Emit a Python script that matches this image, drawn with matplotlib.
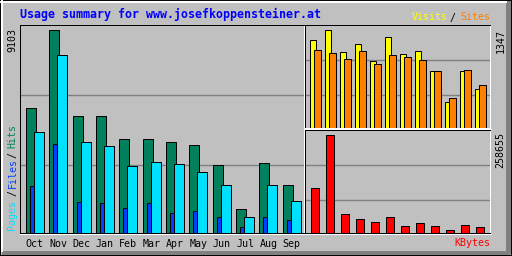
import matplotlib
matplotlib.use("Agg")
import matplotlib.pyplot as plt
from matplotlib.patches import Rectangle
from matplotlib.lines import Line2D
import numpy as np

W, H = 512, 256

# Data
months = ["Oct", "Nov", "Dec", "Jan", "Feb", "Mar", "Apr", "May", "Jun", "Jul", "Aug", "Sep"]
hits = [5596, 9103, 5254, 5254, 4225, 4225, 4090, 3956, 3061, 1092, 3151, 2166]
pages = [4538, 7984, 4090, 3911, 3016, 3195, 3106, 2748, 2166, 734, 2166, 1450]
files = [2121, 4001, 1405, 1360, 1137, 1360, 913, 1002, 734, 286, 734, 600]
visits = [1210, 1347, 1045, 1155, 921, 1251, 1017, 1058, 783, 357, 783, 536]
sites = [1072, 1031, 948, 1058, 880, 1003, 976, 935, 783, 412, 797, 591]
kbytes = [118771, 258655, 50148, 36951, 29033, 42230, 18476, 26394, 18476, 7918, 21115, 15836]

BG = "#c0c0c0"
GRID = "#808080"
C_HITS = "#00805c"
C_FILES = "#0040ff"
C_PAGES = "#00e0ff"
C_VISITS = "#ffff00"
C_SITES = "#ff8000"
C_KB = "#ff0000"
MONO = "DejaVu Sans Mono"
LW = 0.72

fig = plt.figure(figsize=(W / 100, H / 100), dpi=100, facecolor=BG)


def fx(x):
    return x / W


def fy(y):
    return 1 - y / H


def box(x0, y0, x1, y1):
    return [fx(x0), fy(y1), (x1 - x0) / W, (y1 - y0) / H]


# outer 3D frame
fig.add_artist(Rectangle((0, 0), 1, 1, transform=fig.transFigure, fill=False,
                         edgecolor="black", lw=1.4))
fig.add_artist(Rectangle((fx(506), fy(254)), 5 / W, (254 - 1) / H, transform=fig.transFigure,
                         facecolor=GRID, edgecolor="none"))
fig.add_artist(Rectangle((fx(2), fy(255)), (510 - 2) / W, 4 / H, transform=fig.transFigure,
                         facecolor=GRID, edgecolor="none"))
fig.add_artist(Line2D([fx(1), fx(506)], [fy(1.5), fy(1.5)], color="white", lw=1.4))
fig.add_artist(Line2D([fx(1.5), fx(1.5)], [fy(1), fy(251)], color="white", lw=1.4))


def panel(x0, y0, x1, y1, xlim, ymax, grid_fracs, bottom_black=True):
    ax = fig.add_axes(box(x0, y0, x1, y1))
    ax.set_facecolor(BG)
    ax.set_xlim(*xlim)
    ax.set_ylim(0, ymax)
    for f in grid_fracs:
        ax.axhline(ymax * f, color=GRID, lw=1.0, zorder=0)
    ax.set_yticks([])
    ax.set_xticks([])
    for s in ("left", "top", "bottom"):
        ax.spines[s].set_color("black")
    ax.spines["right"].set_color("white")
    if not bottom_black:
        ax.spines["bottom"].set_color("white")
    for s in ax.spines.values():
        s.set_linewidth(LW)
    if bottom_black:
        fig.add_artist(Line2D([fx(x0), fx(x1 + 1)], [fy(y1 + 1), fy(y1 + 1)],
                              color="white", lw=LW))
    return ax


x = np.arange(len(months))

# main panel: hits / files / pages
u = 23.36  # px per month
ax = panel(20, 25, 304, 233, (-5.8 / u, -5.8 / u + 284 / u), 9309, (0.325, 0.662))
kw = dict(align="edge", edgecolor="black", lw=LW, zorder=2)
ax.bar(x, hits, width=10 / u, color=C_HITS, **kw)
ax.bar(x + 4 / u, files, width=4 / u, color=C_FILES, **kw)
ax.bar(x + 8 / u, pages, width=10 / u, color=C_PAGES, **kw)
ax.set_xticks(x + 9 / u)
ax.set_xticklabels(months, family=MONO, fontsize=7.2)
ax.tick_params(axis="x", length=0, pad=4.5)

# top right: visits / sites
v = 15.0
ax2 = panel(305, 25, 490, 128, (-4.8 / v, -4.8 / v + 185 / v), 1416, (0.317, 0.657),
            bottom_black=False)
ax2.bar(x, visits, width=6.5 / v, color=C_VISITS, **kw)
ax2.bar(x + 3.7 / v, sites, width=7 / v, color=C_SITES, **kw)
fig.add_artist(Line2D([fx(305), fx(491)], [fy(129), fy(129)], color="white", lw=LW))

# bottom right: kbytes
ax3 = panel(305, 130, 490, 233, (-4.8 / v, -4.8 / v + 185 / v), 271853, (0.317, 0.657))
ax3.bar(x + 1 / v, kbytes, width=8.5 / v, color=C_KB, **kw)

# texts
fig.text(fx(20), fy(18), "Usage summary for www.josefkoppensteiner.at", color="#0000ff",
         family=MONO, fontsize=8.4, fontweight="bold", ha="left", va="baseline")
tk = dict(family=MONO, fontsize=7.2, va="baseline", ha="center")
fig.text(fx(429.7), fy(20.5), "Visits", color=C_VISITS, **tk)
fig.text(fx(452.5), fy(20.5), "/", color="black", **tk)
fig.text(fx(475), fy(20.5), "Sites", color=C_SITES, **tk)

rk = dict(family=MONO, fontsize=7.2, rotation=90, ha="center")
fig.text(fx(12.5), fy(28), "9103", va="top", color="black", **rk)
fig.text(fx(500.5), fy(29), "1347", va="top", color="black", **rk)
fig.text(fx(500.5), fy(131.5), "258655", va="top", color="black", **rk)
fig.text(fx(12.5), fy(215), "Pages", va="center", color=C_PAGES, **rk)
fig.text(fx(12.5), fy(193), "/", va="center", color="black", **rk)
fig.text(fx(12.5), fy(173), "Files", va="center", color=C_FILES, **rk)
fig.text(fx(12.5), fy(155), "/", va="center", color="black", **rk)
fig.text(fx(12.5), fy(136), "Hits", va="center", color=C_HITS, **rk)

fig.text(fx(490), fy(243), "KBytes", color=C_KB, family=MONO, fontsize=7.2,
         ha="right", va="center")

fig.savefig("out.png", dpi=100, facecolor=BG)
